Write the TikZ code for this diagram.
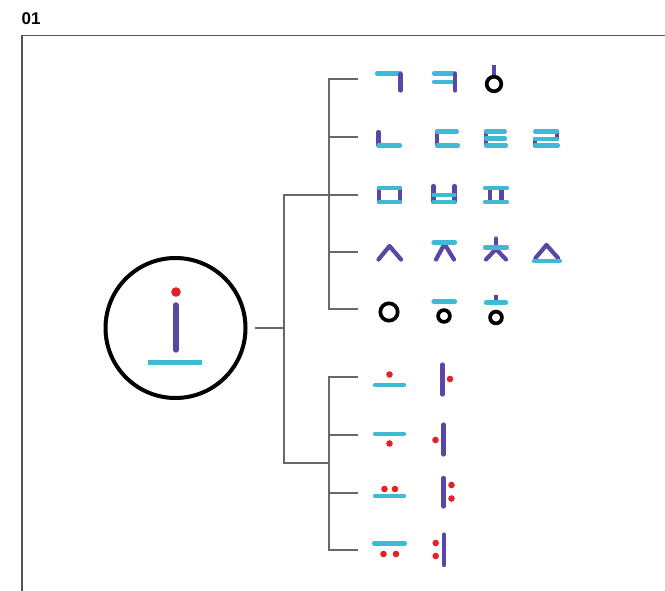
\documentclass[tikz,border=0pt]{standalone}
\usepackage{fontspec}
\setmainfont{Liberation Sans}
\definecolor{jcyan}{RGB}{62,186,212}
\definecolor{jpurple}{RGB}{90,70,164}
\definecolor{jred}{RGB}{228,32,40}
\definecolor{jgray}{RGB}{105,105,105}
\definecolor{jframe}{RGB}{85,85,85}
\begin{document}
\begin{tikzpicture}[x=1pt,y=-1pt,
  tree/.style={draw=jgray,line width=1.6pt},
  framel/.style={draw=jframe,line width=1.3pt},
  cy/.style={draw=jcyan,line width=4.2pt,line cap=round},
  pu/.style={draw=jpurple,line width=4.2pt,line cap=round,line join=round},
  bk/.style={draw=black,line width=3.7pt},
  rdot/.style={fill=jred},
  rootnode/.style={circle,draw=black,line width=4pt,inner sep=0pt,minimum size=140pt}]
\useasboundingbox (0,0) rectangle (665,591);

% heading and frame
\node[anchor=base west,inner sep=0pt,font=\fontsize{17}{20}\selectfont\bfseries] (title) at (21.5,25) {01};
\draw[framel] (665,35.5) -- (22,35.5) -- (22,591);

% root: the vowel sign inside a circle
\node[rootnode] (root) at (175.5,328) {};
\fill[rdot] (176,292) circle (4.8);
\draw[pu,line width=5.4pt] (176,305) -- (176,350);
\draw[cy,line cap=butt,line width=4.6pt] (148,362.5) -- (202,362.5);

% tree of branches
\coordinate (trunkin) at (255,328);
\coordinate (tt) at (284,195);
\coordinate (tb) at (284,463);
\coordinate (ubr) at (329,195);
\coordinate (lbr) at (329,463);
\coordinate (r1) at (358,79);
\coordinate (r2) at (358,137);
\coordinate (r3) at (358,195);
\coordinate (r4) at (358,252);
\coordinate (r5) at (358,309);
\coordinate (v1) at (358,377);
\coordinate (v2) at (358,435);
\coordinate (v3) at (358,493);
\coordinate (v4) at (358,550);

\draw[tree] (trunkin) -- (trunkin -| tt);
\draw[tree] (ubr) -- (tt) -- (tb) -- (lbr);
\draw[tree] (r1) -| (ubr) |- (r5);
\draw[tree] (r2) -- (r2 -| ubr);
\draw[tree] (ubr) -- (r3);
\draw[tree] (r4) -- (r4 -| ubr);
\draw[tree] (v1) -| (lbr) |- (v4);
\draw[tree] (v2) -- (v2 -| lbr);
\draw[tree] (v3) -- (v3 -| lbr);

% row 1: velars
\draw[cy] (377,73.5) -- (400.5,73.5);
\draw[pu] (400.5,74) -- (400.5,90.5);
\draw[cy] (434,73.5) -- (455,73.5);
\draw[cy] (434,82) -- (455,82);
\draw[pu] (455,74) -- (455,90.5);
\draw[pu,line width=3.2pt,line cap=butt] (494,65.5) -- (494,75);
\draw[bk] (494,84) circle (7.3);

% row 2: alveolars
\draw[pu] (378.5,132) -- (378.5,145.5);
\draw[cy] (378.5,145.5) -- (400,145.5);
\draw[pu] (437,131.5) -- (437,145.5);
\draw[cy] (437,131.5) -- (457,131.5);
\draw[cy] (437,145.5) -- (458,145.5);
\draw[pu] (486,131.5) -- (486,145.5);
\draw[cy] (486,131.5) -- (505,131.5);
\draw[cy] (486,138.5) -- (505,138.5);
\draw[cy] (486,145.5) -- (506,145.5);
\draw[pu] (557,131.5) -- (557,139);
\draw[pu] (535,139) -- (535,145.5);
\draw[cy] (535,131.5) -- (557,131.5);
\draw[cy] (535,139) -- (557,139);
\draw[cy] (535,145.5) -- (558,145.5);

% row 3: labials
\draw[pu] (379,188) -- (379,202);
\draw[pu] (400,188) -- (400,202);
\draw[cy] (379,188) -- (400,188);
\draw[cy] (379,202) -- (400,202);
\draw[pu] (433.5,186) -- (433.5,202);
\draw[pu] (454.5,186) -- (454.5,202);
\draw[cy] (433.5,195) -- (454.5,195);
\draw[cy] (433.5,202) -- (454.5,202);
\draw[pu] (490,188) -- (490,202);
\draw[pu] (501.5,188) -- (501.5,202);
\draw[cy] (485,188) -- (507,188);
\draw[cy] (485,202) -- (507,202);

% row 4: sibilants
\draw[pu] (378.5,259.5) -- (389.5,246) -- (401,259.5);
\draw[pu] (436,259.5) -- (444.5,244) -- (454,259.5);
\draw[cy] (433.5,242.5) -- (455,242.5);
\draw[pu] (496,238.5) -- (496,246);
\draw[pu] (486,259.5) -- (496,249) -- (506,259.5);
\draw[cy] (485,247.5) -- (507,247.5);
\draw[pu] (535.5,258) -- (546.5,245) -- (558,258);
\draw[cy] (534,261) -- (560,261);

% row 5: glottals
\draw[bk] (389,312) circle (8.7);
\draw[cy] (433.5,301.5) -- (455,301.5);
\draw[bk] (444,316) circle (5.9);
\draw[pu,line width=3.2pt,line cap=butt] (496,295.5) -- (496,301);
\draw[cy] (486,302.5) -- (506,302.5);
\draw[bk] (496,317.5) circle (5.9);

% vowels
\fill[rdot] (389.5,374.5) circle (3.3);
\draw[cy] (375,385) -- (404,385);
\draw[pu] (442.5,364.5) -- (442.5,394.5);
\fill[rdot] (450,379) circle (3.3);

\draw[cy] (375,434) -- (404,434);
\fill[rdot] (389.5,443.5) circle (3.3);
\draw[pu] (443.5,424.5) -- (443.5,454.5);
\fill[rdot] (435.5,440) circle (3.3);

\fill[rdot] (384.5,489) circle (3.3);
\fill[rdot] (395,489) circle (3.3);
\draw[cy] (375,496) -- (404,496);
\draw[pu] (443.5,478) -- (443.5,506.5);
\fill[rdot] (451.5,485) circle (3.3);
\fill[rdot] (451.5,498.5) circle (3.3);

\draw[cy] (374,543.5) -- (405,543.5);
\fill[rdot] (383.5,554) circle (3.3);
\fill[rdot] (396,554) circle (3.3);
\draw[pu] (444,534.5) -- (444,565);
\fill[rdot] (435.7,543) circle (3.3);
\fill[rdot] (435.7,556) circle (3.3);
\end{tikzpicture}
\end{document}
